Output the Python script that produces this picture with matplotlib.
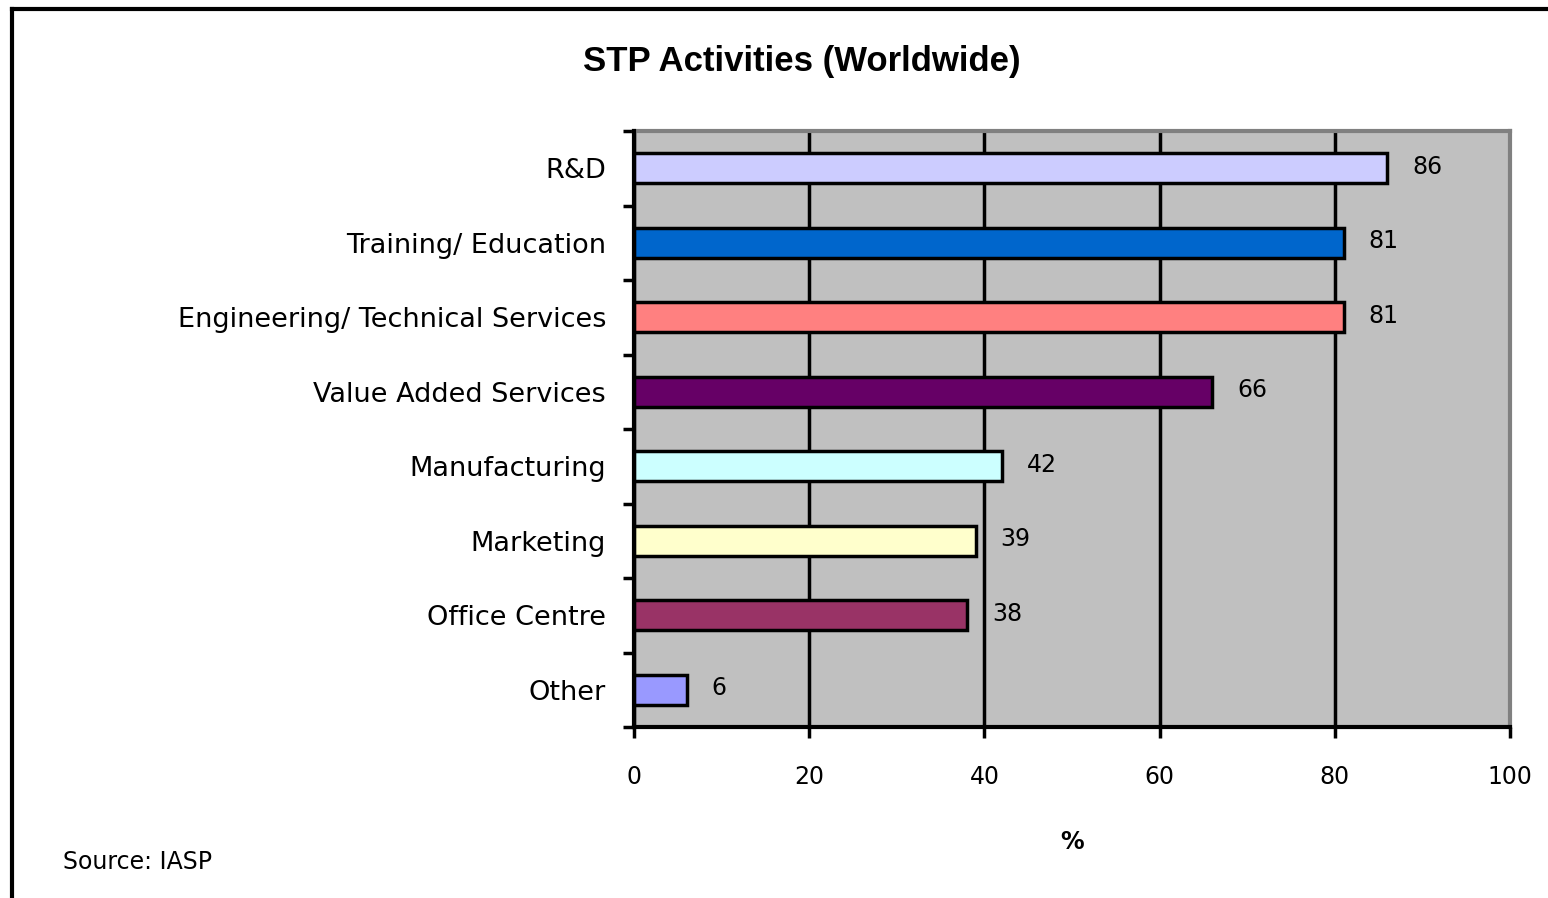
import matplotlib.pyplot as plt
from matplotlib.lines import Line2D

plt.rcParams['font.family'] = ['DejaVu Sans']

# Share of science/technology parks offering each activity (%)
activities = ["R&D", "Training/ Education", "Engineering/ Technical Services",
              "Value Added Services", "Manufacturing", "Marketing",
              "Office Centre", "Other"]
shares = [86, 81, 81, 66, 42, 39, 38, 6]
bar_colors = ["#CCCCFF", "#0066CC", "#FF8080", "#660066",
              "#CCFFFF", "#FFFFCC", "#993366", "#9999FF"]
xticks = [0, 20, 40, 60, 80, 100]

fig = plt.figure(figsize=(15.48, 8.98), dpi=100)
ax = fig.add_axes([634 / 1548, 1 - 727 / 898, 876 / 1548, 596 / 898])
ax.set_facecolor("#C0C0C0")

ypos = list(range(len(activities)))
ax.barh(ypos, shares, height=0.40, color=bar_colors,
        edgecolor="black", linewidth=2.5, zorder=3)

for y, v in zip(ypos, shares):
    ax.annotate(str(v), (v, y), xytext=(18, 1), textcoords="offset points",
                ha="left", va="center", fontsize=17, zorder=4)

ax.set_xlim(0, 100)
ax.set_ylim(len(activities) - 0.5, -0.5)
ax.set_xticks(xticks)
ax.set_xticklabels([str(t) for t in xticks], fontsize=17)
ax.set_yticks(ypos)
ax.set_yticklabels(activities, fontsize=19.5)
ax.tick_params(axis="y", length=0, pad=20)
ax.tick_params(axis="x", length=8, width=2.5, pad=19)

# category separator ticks on the value axis
ax.set_yticks([y + 0.5 for y in range(-1, len(activities))], minor=True)
ax.tick_params(axis="y", which="minor", length=8, width=2.5)

ax.grid(axis="x", color="black", linewidth=2.5, zorder=1)
ax.set_axisbelow(True)
for side in ("top", "right"):
    ax.spines[side].set_color("#808080")
    ax.spines[side].set_linewidth(3)
for side in ("left", "bottom"):
    ax.spines[side].set_color("black")
    ax.spines[side].set_linewidth(3)
ax.spines["left"].set_zorder(5)
ax.spines["bottom"].set_zorder(5)

ax.set_xlabel("%", fontsize=17, fontweight="bold", labelpad=30)

fig.text(802 / 1548, 1 - 62 / 898, "STP Activities (Worldwide)",
         ha="center", va="center", fontsize=25, fontweight="bold",
         family=["Liberation Sans", "DejaVu Sans"])
fig.text(63 / 1548, 1 - 862 / 898, "Source: IASP",
         ha="left", va="center", fontsize=17)

# frame lines along the top and left edges
fig.add_artist(Line2D([12 / 1548, 1], [1 - 9 / 898, 1 - 9 / 898],
                      transform=fig.transFigure, color="black", linewidth=3))
fig.add_artist(Line2D([12 / 1548, 12 / 1548], [0, 1 - 9 / 898],
                      transform=fig.transFigure, color="black", linewidth=3))

fig.savefig("out.png", dpi=100, facecolor="white")
